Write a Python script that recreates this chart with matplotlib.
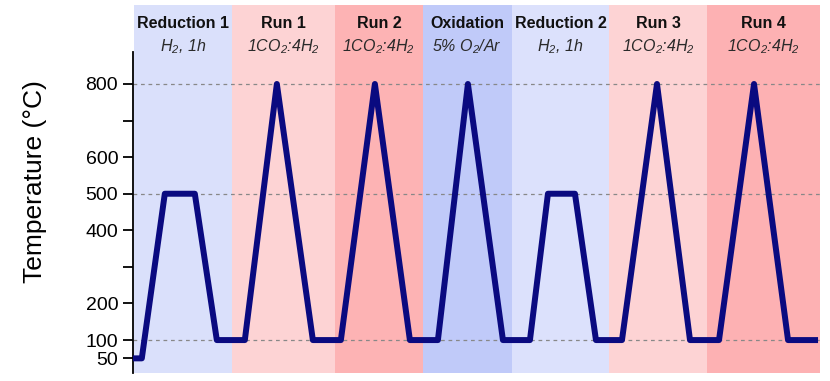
import matplotlib
matplotlib.use("Agg")
import matplotlib.pyplot as plt

plt.rcParams["font.family"] = ["Liberation Sans", "DejaVu Sans"]
plt.rcParams["mathtext.fontset"] = "custom"
plt.rcParams["mathtext.rm"] = "Liberation Sans:italic"
plt.rcParams["mathtext.it"] = "Liberation Sans:italic"

# temperature programme (time in arbitrary units, temperature in °C)
time = [0, 9, 32, 62, 84, 112, 144, 180, 208, 242, 277, 305, 335, 370,
        397, 415, 442, 463, 489, 524, 557, 586, 621, 655, 685]
temp = [50, 50, 500, 500, 100, 100, 800, 100, 100, 800, 100, 100, 800, 100,
        100, 500, 500, 100, 100, 800, 100, 100, 800, 100, 100]

# experiment stages
stage_edges = [1, 99, 202, 290, 379, 476, 574, 687]
stage_names = ["Reduction 1", "Run 1", "Run 2", "Oxidation",
               "Reduction 2", "Run 3", "Run 4"]
stage_gas = ["H$_2$, 1h", "1CO$_2$:4H$_2$", "1CO$_2$:4H$_2$",
             "5% O$_2$/Ar", "H$_2$, 1h", "1CO$_2$:4H$_2$",
             "1CO$_2$:4H$_2$"]
stage_colors = ["#dae0fb", "#fdd3d4", "#fdb3b4", "#c0caf9",
                "#dce1fc", "#fdd3d4", "#fdb1b3"]

ref_levels = [100, 500, 800]
major_ticks = [50, 100, 200, 400, 500, 600, 800]
minor_ticks = [300, 700]

fig = plt.figure(figsize=(8.3, 3.81), dpi=100)
ax = fig.add_axes([0.160, 0.021, 0.828, 0.966])

for i, name in enumerate(stage_names):
    x0, x1 = stage_edges[i], stage_edges[i + 1]
    ax.axvspan(x0, x1, color=stage_colors[i], lw=0, zorder=0)
    xm = (x0 + x1) / 2
    ax.text(xm, 964, name, ha="center", va="center", fontsize=11.5,
            fontweight="bold", color="#111111")
    ax.text(xm, 903, stage_gas[i], ha="center", va="center", fontsize=11.5,
            style="italic", color="#2a2a2a")

for lvl in ref_levels:
    ax.axhline(lvl, color="#888888", lw=0.9, ls=(0, (3, 3)), zorder=1)

ax.plot(time, temp, color="#0a0a80", lw=4.3, solid_joinstyle="round",
        solid_capstyle="butt", zorder=3)

ax.set_xlim(0, 687)
ax.set_ylim(10, 1016)
ax.set_yticks(major_ticks)
ax.set_yticks(minor_ticks, minor=True)
ax.tick_params(axis="y", which="both", direction="out", length=7, width=1.3,
               labelsize=14)
ax.set_xticks([])
for side in ["top", "right", "bottom"]:
    ax.spines[side].set_visible(False)
ax.spines["left"].set_bounds(10, 887)
ax.spines["left"].set_linewidth(1.3)
ax.set_ylabel("Temperature (°C)", fontsize=19)
ax.yaxis.set_label_coords(-0.125, 0.52)

fig.savefig("out.png", dpi=100, facecolor="white")
